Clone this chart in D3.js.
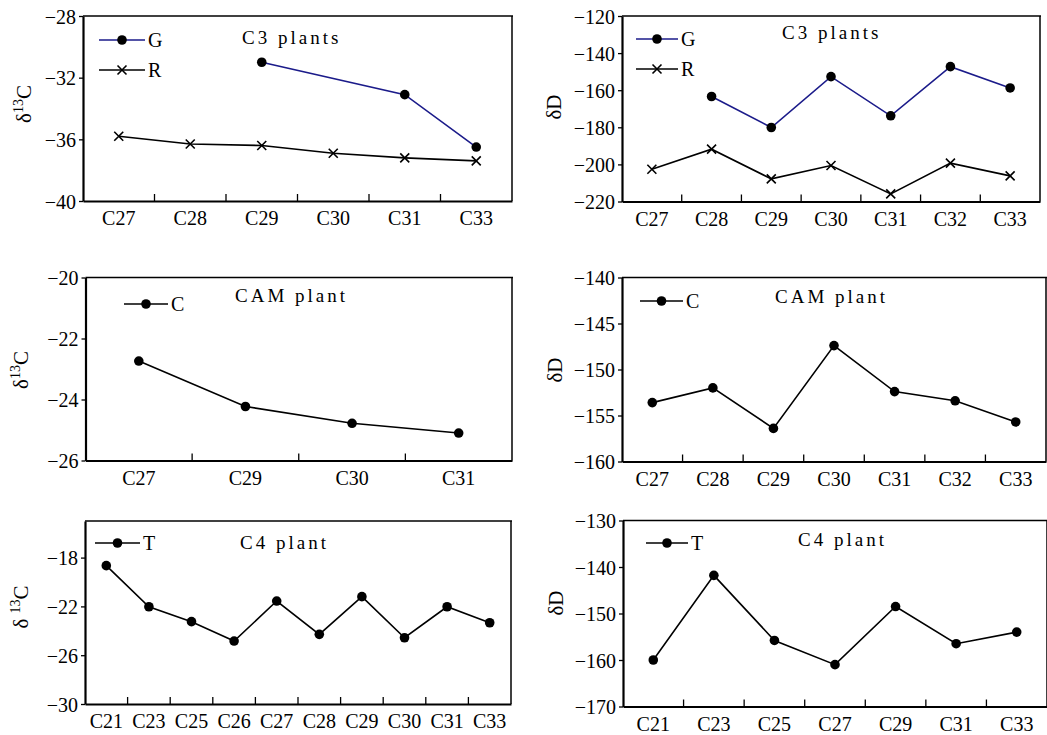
<!DOCTYPE html>
<html lang="en">
<head>
<meta charset="UTF-8">
<title>Isotope panels</title>
<script src="https://d3js.org/d3.v7.min.js"></script>
<style>
  body { margin: 0; background: #fff; }
  svg { display: block; }
  text { font-family: 'Liberation Serif', 'Times New Roman', serif; fill: #000; }
</style>
</head>
<body>
<script>
// ---- data ----
var c3Cats13C = ["C27", "C28", "C29", "C30", "C31", "C33"];
var c3G13C = [null, null, -31.0, null, -33.1, -36.5];
var c3R13C = [-35.8, -36.3, -36.4, -36.9, -37.2, -37.4];
var c3Ticks13C = [-28, -32, -36, -40];

var c3CatsD = ["C27", "C28", "C29", "C30", "C31", "C32", "C33"];
var c3GD = [null, -163.4, -180.1, -152.7, -173.8, -147.3, -158.8];
var c3RD = [-202.6, -191.8, -207.8, -200.6, -215.9, -199.3, -206.2];
var c3TicksD = [-120, -140, -160, -180, -200, -220];

var camCats13C = ["C27", "C29", "C30", "C31"];
var camC13C = [-22.74, -24.23, -24.78, -25.1];
var camTicks13C = [-20, -22, -24, -26];

var camCatsD = ["C27", "C28", "C29", "C30", "C31", "C32", "C33"];
var camCD = [-153.6, -152.0, -156.4, -147.4, -152.4, -153.4, -155.7];
var camTicksD = [-140, -145, -150, -155, -160];

var c4Cats13C = ["C21", "C23", "C25", "C26", "C27", "C28", "C29", "C30", "C31", "C33"];
var c4T13C = [-18.66, -22.03, -23.25, -24.84, -21.56, -24.29, -21.2, -24.57, -22.03, -23.34];
var c4Ticks13C = [-18, -22, -26, -30];

var c4CatsD = ["C21", "C23", "C25", "C27", "C29", "C31", "C33"];
var c4TD = [-160.0, -141.8, -155.8, -161.0, -148.5, -156.5, -154.0];
var c4TicksD = [-130, -140, -150, -160, -170];

var W = 1047, H = 735;
var navy = "#1b1b8a";
var serif = "'Liberation Serif', 'Times New Roman', serif";

var svg = d3.select("body").append("svg").attr("width", W).attr("height", H);

var panels = [
  { box: [83, 512, 16, 201], domain: [-40, -28], ticks: c3Ticks13C, cats: c3Cats13C,
    title: "C3 plants", titleX: 242, titleY: 44, label: "13C", labelX: 31, labelY: 104,
    series: [{ name: "G", values: c3G13C, color: navy, marker: "dot" },
             { name: "R", values: c3R13C, color: "#000", marker: "cross" }],
    legend: { x1: 99, x2: 145, y: 40, dy: 30 } },
  { box: [622, 1040, 16, 201.5], domain: [-220, -120], ticks: c3TicksD, cats: c3CatsD,
    title: "C3 plants", titleX: 782, titleY: 39, label: "D", labelX: 561, labelY: 107,
    series: [{ name: "G", values: c3GD, color: navy, marker: "dot" },
             { name: "R", values: c3RD, color: "#000", marker: "cross" }],
    legend: { x1: 636, x2: 678, y: 39, dy: 30 } },
  { box: [85.5, 512, 277.5, 460.5], domain: [-26, -20], ticks: camTicks13C, cats: camCats13C,
    title: "CAM plant", titleX: 235, titleY: 302, label: "13C", labelX: 28, labelY: 370,
    series: [{ name: "C", values: camC13C, color: "#000", marker: "dot" }],
    legend: { x1: 124, x2: 168, y: 304, dy: 30 } },
  { box: [622, 1046, 277.5, 461.5], domain: [-160, -140], ticks: camTicksD, cats: camCatsD,
    title: "CAM plant", titleX: 775, titleY: 303, label: "D", labelX: 562, labelY: 370,
    series: [{ name: "C", values: camCD, color: "#000", marker: "dot" }],
    legend: { x1: 640, x2: 683, y: 301, dy: 30 } },
  { box: [85, 511, 521, 704], domain: [-30, -15], ticks: c4Ticks13C, cats: c4Cats13C,
    title: "C4 plant", titleX: 240, titleY: 549, label: " 13C", labelX: 28, labelY: 607,
    series: [{ name: "T", values: c4T13C, color: "#000", marker: "dot" }],
    legend: { x1: 95, x2: 140, y: 543, dy: 30 } },
  { box: [623, 1047, 520.5, 706.5], domain: [-170, -130], ticks: c4TicksD, cats: c4CatsD,
    title: "C4 plant", titleX: 798, titleY: 546, label: "D", labelX: 563, labelY: 603,
    series: [{ name: "T", values: c4TD, color: "#000", marker: "dot" }],
    legend: { x1: 646, x2: 688, y: 543, dy: 30 } }
];

function drawMarker(g, kind, cx, cy) {
  if (kind === "dot") {
    g.append("circle").attr("cx", cx).attr("cy", cy).attr("r", 4.8).attr("fill", "#000");
  } else {
    var s = 4.5;
    g.append("path")
      .attr("d", "M" + (cx - s) + "," + (cy - s) + "L" + (cx + s) + "," + (cy + s) +
                 "M" + (cx - s) + "," + (cy + s) + "L" + (cx + s) + "," + (cy - s))
      .attr("stroke", "#000").attr("stroke-width", 1.6).attr("fill", "none");
  }
}

panels.forEach(function (p) {
  var left = p.box[0], right = p.box[1], top = p.box[2], bottom = p.box[3];
  var g = svg.append("g");

  var x = d3.scaleBand().domain(p.cats).range([left, right]);
  var y = d3.scaleLinear().domain(p.domain).range([bottom, top]);

  // frame: thin top/right, heavier left/bottom
  g.append("line").attr("x1", left).attr("x2", right + 1).attr("y1", top).attr("y2", top)
    .attr("stroke", "#000").attr("stroke-width", 1.5);
  g.append("line").attr("x1", right).attr("x2", right).attr("y1", top).attr("y2", bottom)
    .attr("stroke", "#000").attr("stroke-width", 1.5);

  // y axis
  var yAxis = g.append("g").attr("transform", "translate(" + left + ",0)")
    .call(d3.axisLeft(y).tickValues(p.ticks).tickFormat(d3.format("d"))
      .tickSize(4).tickSizeOuter(0).tickPadding(3));
  yAxis.attr("font-family", null).attr("font-size", null);
  yAxis.select(".domain").attr("stroke-width", 2.2);
  yAxis.selectAll(".tick line").attr("stroke-width", 1.3);
  yAxis.selectAll("text").style("font-family", serif).style("font-size", "20px")
    .attr("fill", "#000").attr("dy", "0.35em");

  // x axis: labels centred in bands, tick marks at band boundaries pointing up
  var xAxis = g.append("g").attr("transform", "translate(0," + bottom + ")")
    .call(d3.axisBottom(x).tickSize(0).tickPadding(10));
  xAxis.attr("font-family", null).attr("font-size", null);
  xAxis.select(".domain").attr("stroke-width", 2.2);
  xAxis.selectAll("text").style("font-family", serif).style("font-size", "20px")
    .attr("fill", "#000").attr("dy", "0.72em");
  g.selectAll(".bt").data(p.cats.slice(1)).enter().append("line")
    .attr("x1", function (d) { return x(d); }).attr("x2", function (d) { return x(d); })
    .attr("y1", bottom).attr("y2", bottom - 7)
    .attr("stroke", "#000").attr("stroke-width", 1.3);

  // series
  var cx = function (i) { return x(p.cats[i]) + x.bandwidth() / 2; };
  p.series.forEach(function (s) {
    var pts = s.values.map(function (v, i) { return { i: i, v: v }; })
      .filter(function (d) { return d.v !== null; });
    var line = d3.line().x(function (d) { return cx(d.i); }).y(function (d) { return y(d.v); });
    g.append("path").datum(pts).attr("d", line).attr("fill", "none")
      .attr("stroke", s.color).attr("stroke-width", 1.6);
    pts.forEach(function (d) { drawMarker(g, s.marker, cx(d.i), y(d.v)); });
  });

  // legend
  p.series.forEach(function (s, k) {
    var ly = p.legend.y + k * p.legend.dy;
    g.append("line").attr("x1", p.legend.x1).attr("x2", p.legend.x2).attr("y1", ly).attr("y2", ly)
      .attr("stroke", s.color).attr("stroke-width", 1.6);
    drawMarker(g, s.marker, (p.legend.x1 + p.legend.x2) / 2, ly);
    g.append("text").attr("x", p.legend.x2 + 3).attr("y", ly + 7)
      .style("font-size", "20px").text(s.name);
  });

  // title (spaced out like the monospaced original)
  g.append("text").attr("x", p.titleX).attr("y", p.titleY)
    .style("font-size", "19px").style("letter-spacing", "3px").text(p.title);

  // y label: delta + superscript
  var t = g.append("text")
    .attr("transform", "translate(" + p.labelX + "," + p.labelY + ") rotate(-90)")
    .attr("text-anchor", "middle").style("font-size", "21px");
  t.append("tspan").text("\u03b4");
  if (p.label.indexOf("13") >= 0) {
    if (p.label.charAt(0) === " ") t.append("tspan").text(" ");
    t.append("tspan").style("font-size", "14px").attr("dy", -8).text("13");
    t.append("tspan").attr("dy", 8).text("C");
  } else {
    t.append("tspan").text("D");
  }
});
</script>
</body>
</html>
